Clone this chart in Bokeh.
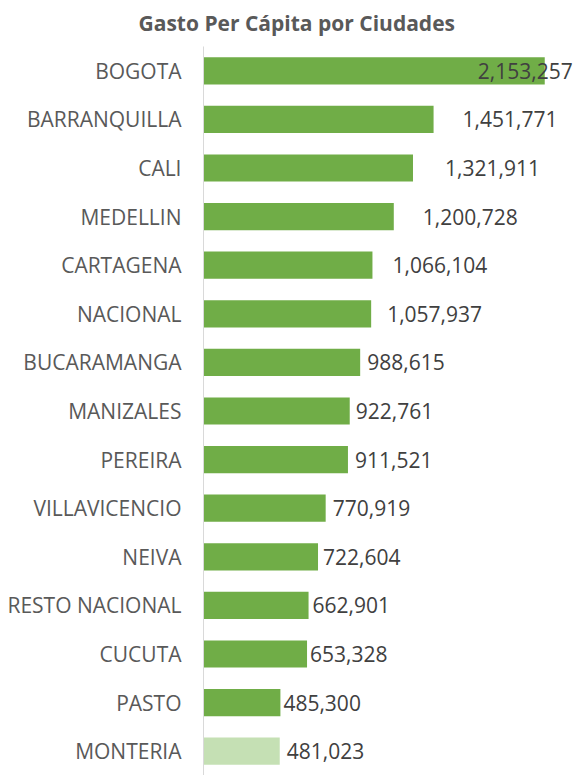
from bokeh.plotting import figure
from bokeh.models import ColumnDataSource, FactorRange, Range1d, LabelSet, Title
from bokeh.core.properties import value
from bokeh.embed import file_html
from bokeh.resources import INLINE

# ---- data ----
cities = ["BOGOTA", "BARRANQUILLA", "CALI", "MEDELLIN", "CARTAGENA", "NACIONAL",
          "BUCARAMANGA", "MANIZALES", "PEREIRA", "VILLAVICENCIO", "NEIVA",
          "RESTO NACIONAL", "CUCUTA", "PASTO", "MONTERIA"]
gasto = [2153257, 1451771, 1321911, 1200728, 1066104, 1057937,
         988615, 922761, 911521, 770919, 722604,
         662901, 653328, 485300, 481023]

# ---- styles / label placement (pixels) ----
bar_colors = ["#70AD47"] * 14 + ["#C5E0B4"]
label_dx = [-67, 29, 32, 29, 20, 16, 7, 6, 7, 7, 5, 4, 3, 3, 7]
labels = [f"{v:,}" for v in gasto]

src = ColumnDataSource(dict(city=cities, gasto=gasto, color=bar_colors,
                            label=labels, dx=label_dx))

W, H = 574, 775
p = figure(width=W, height=H, output_backend="svg", toolbar_location=None,
           y_range=FactorRange(factors=list(reversed(cities)), range_padding=0),
           x_range=Range1d(0, 371 * 6310),
           min_border_left=203, min_border_right=0, min_border_bottom=0,
           min_border_top=0)

p.title = Title(text="Gasto Per Cápita por Ciudades", align="left", offset=-65,
                vertical_align="top",
                text_font="Open Sans", text_font_style="bold",
                text_font_size="21px", text_color="#595959", standoff=16)

p.hbar(y="city", right="gasto", left=0, height=0.56, color="color",
       line_color=None, source=src)

p.add_layout(LabelSet(x="gasto", y="city", text="label", x_offset="dx",
                      text_align="left", text_baseline="middle",
                      text_font=value("Open Sans"), text_font_size="21px",
                      text_color="#404040", source=src))

p.xaxis.visible = False
p.xgrid.visible = False
p.ygrid.visible = False
p.outline_line_color = None
p.yaxis.axis_line_color = "#D9D9D9"
p.yaxis.axis_line_width = 1
p.yaxis.major_tick_line_color = None
p.yaxis.minor_tick_line_color = None
p.yaxis.major_tick_in = 0
p.yaxis.major_tick_out = 0
p.yaxis.major_label_standoff = 22
p.yaxis.major_label_text_font = "Open Sans"
p.yaxis.major_label_text_font_size = "21px"
p.yaxis.major_label_text_color = "#595959"

open("out.html", "w").write(file_html(p, INLINE))
